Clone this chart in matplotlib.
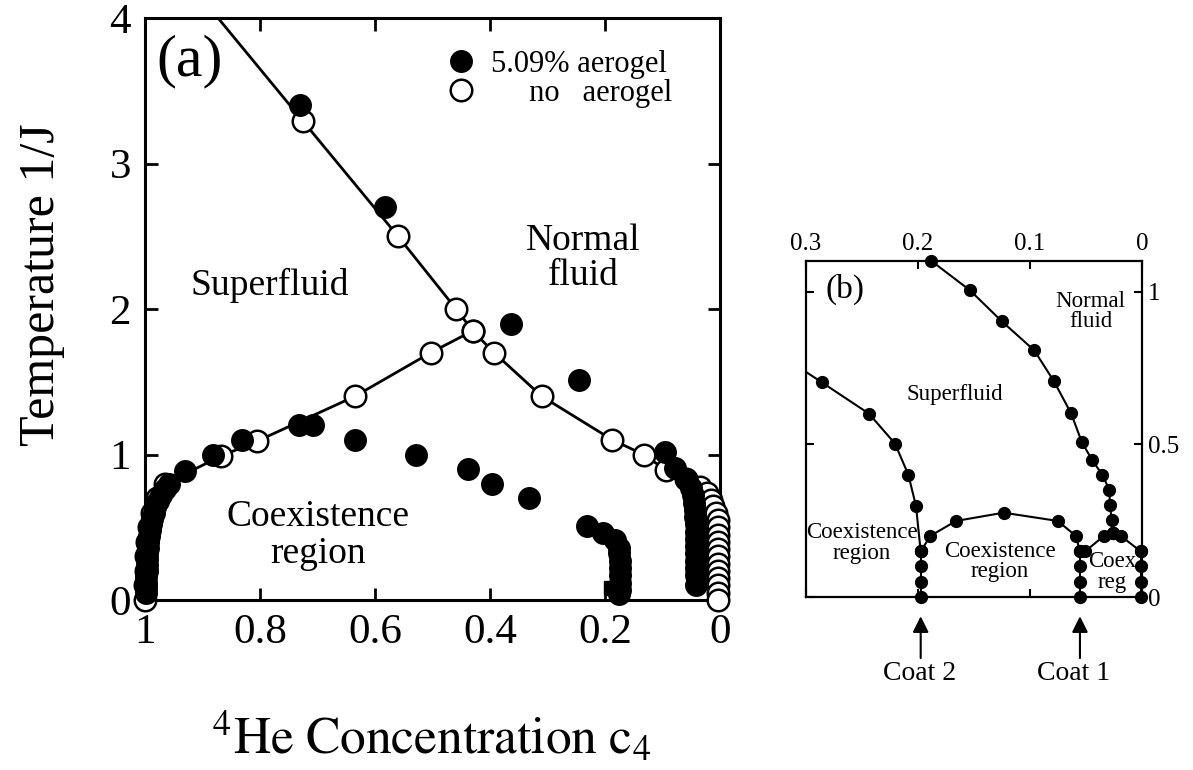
import matplotlib
matplotlib.use("Agg")
import matplotlib.pyplot as plt
from matplotlib.lines import Line2D

plt.rcParams['font.family'] = ['Liberation Serif', 'DejaVu Serif']
plt.rcParams['mathtext.fontset'] = 'stix'

# ---------------- Panel (a) data ----------------
# 5.09% aerogel (filled circles, no line)
aero_c = [0.730, 0.583, 0.364, 0.245,
          0.707, 0.733, 0.635, 0.832, 0.881, 0.930, 0.959,
          0.965, 0.972, 0.978, 0.982, 0.985, 0.988, 0.990, 0.992, 0.993, 0.994,
          0.995, 0.996, 0.996, 0.997, 0.997, 0.998, 0.998, 0.999, 0.999,
          0.529, 0.439, 0.397, 0.333,
          0.232, 0.204, 0.183, 0.176, 0.175, 0.174, 0.174, 0.174, 0.174, 0.174, 0.175,
          0.096, 0.078, 0.058, 0.051, 0.047, 0.045, 0.044, 0.043, 0.042, 0.042,
          0.042, 0.041, 0.041, 0.041, 0.041, 0.041, 0.041]
aero_T = [3.40, 2.70, 1.90, 1.51,
          1.20, 1.20, 1.10, 1.10, 1.00, 0.89, 0.80,
          0.76, 0.72, 0.68, 0.64, 0.60, 0.56, 0.52, 0.48, 0.44, 0.40,
          0.36, 0.32, 0.28, 0.24, 0.20, 0.16, 0.12, 0.08, 0.05,
          1.00, 0.90, 0.80, 0.70,
          0.51, 0.46, 0.41, 0.36, 0.32, 0.27, 0.22, 0.17, 0.12, 0.07, 0.04,
          1.02, 0.91, 0.825, 0.77, 0.72, 0.67, 0.62, 0.57, 0.52, 0.47,
          0.42, 0.37, 0.32, 0.27, 0.22, 0.17, 0.10]
# small filled square near c4 = 0.19
aero_sq_c = [0.189]
aero_sq_T = [0.08]

# no aerogel (open circles): lambda line + right branch
lam_top_c, lam_top_T = 0.873, 4.0          # where the guide line leaves the frame
noaero_A_c = [0.725, 0.560, 0.459, 0.430, 0.393, 0.310, 0.187, 0.133, 0.094,
              0.060, 0.035, 0.023, 0.016, 0.0116, 0.007, 0.004, 0.003, 0.003,
              0.003, 0.003, 0.003, 0.003, 0.003, 0.003, 0.003, 0.003, 0.003]
noaero_A_T = [3.29, 2.50, 2.00, 1.85, 1.70, 1.40, 1.10, 1.00, 0.893,
              0.83, 0.78, 0.733, 0.69, 0.645, 0.60, 0.55, 0.50, 0.45,
              0.40, 0.35, 0.30, 0.25, 0.20, 0.15, 0.10, 0.05, 0.0]
# no aerogel: left phase-separation branch
noaero_B_c = [1.0, 0.9995, 0.999, 0.998, 0.996, 0.993, 0.988, 0.980, 0.965,
              0.867, 0.806, 0.635, 0.503, 0.430]
noaero_B_T = [0.0, 0.1, 0.2, 0.3, 0.4, 0.5, 0.6, 0.7, 0.8,
              0.99, 1.09, 1.40, 1.70, 1.85]

xticks_a = [1.0, 0.8, 0.6, 0.4, 0.2, 0.0]
xticklabels_a = ["1", "0.8", "0.6", "0.4", "0.2", "0"]
yticks_a = [0, 1, 2, 3, 4]

# ---------------- Panel (b) data ----------------
b_left_c = [0.310, 0.286, 0.2437, 0.2205, 0.2086, 0.2018, 0.1976]
b_left_T = [0.761, 0.703, 0.600, 0.502, 0.400, 0.298, 0.149]
b_left_markers = [False, True, True, True, True, True, True]
coat2_c = 0.1976
coat1_c = 0.0554
coat0_c = 0.001
b_coat_T = [0.149, 0.100, 0.050, 0.0]
b_dome_c = [0.1976, 0.189, 0.166, 0.1235, 0.0753, 0.059, 0.0554]
b_dome_T = [0.149, 0.200, 0.249, 0.276, 0.249, 0.200, 0.149]
b_upper_c = [0.188, 0.1536, 0.1253, 0.0961, 0.0786, 0.0634, 0.0536, 0.0446,
             0.0354, 0.0292, 0.0286, 0.0271, 0.0262]
b_upper_T = [1.100, 1.004, 0.903, 0.807, 0.706, 0.602, 0.506, 0.449,
             0.400, 0.351, 0.302, 0.252, 0.211]
b_lbranch_c = [0.0262, 0.034, 0.0509]
b_lbranch_T = [0.211, 0.200, 0.149]
b_rbranch_c = [0.0262, 0.019, 0.001]
b_rbranch_T = [0.211, 0.200, 0.149]
xticks_b = [0.3, 0.2, 0.1, 0.0]
xticklabels_b = ["0.3", "0.2", "0.1", "0"]
yticks_b = [0, 0.5, 1]
yticklabels_b = ["0", "0.5", "1"]

W, H = 1193, 770
fig = plt.figure(figsize=(W / 100, H / 100), dpi=100)

# ================= Panel (a) =================
axA = fig.add_axes([145 / W, 1 - 600 / H, 575 / W, 582 / H])
axA.set_xlim(1.0, 0.0)
axA.set_ylim(0, 4)

lw_line = 2.0
ms_a = 15.5
axA.plot([lam_top_c] + noaero_A_c, [lam_top_T] + noaero_A_T, '-', color='k',
         lw=lw_line, zorder=2)
axA.plot(noaero_B_c, noaero_B_T, '-', color='k', lw=lw_line, zorder=2)
axA.plot(noaero_A_c, noaero_A_T, 'o', ms=ms_a, mfc='white', mec='k', mew=1.8,
         ls='none', zorder=3, clip_on=False)
axA.plot(noaero_B_c, noaero_B_T, 'o', ms=ms_a, mfc='white', mec='k', mew=1.8,
         ls='none', zorder=3, clip_on=False)
axA.plot(aero_c, aero_T, 'o', ms=ms_a, mfc='k', mec='k', ls='none', zorder=4,
         clip_on=False)
axA.plot(aero_sq_c, aero_sq_T, 's', ms=10, mfc='k', mec='k', ls='none', zorder=4)

axA.set_xticks(xticks_a)
axA.set_xticklabels(xticklabels_a)
axA.set_yticks(yticks_a)
axA.tick_params(direction='in', length=9, width=2, top=True, right=True,
                labelsize=31, pad=10)
for s in axA.spines.values():
    s.set_linewidth(2.2)

axA.text(0.922, 3.70, "(a)", fontsize=43, ha='center', va='center')
axA.text(0.238, 2.35, "Normal\nfluid", fontsize=27, ha='center', va='center',
         linespacing=1.0)
axA.text(0.783, 2.165, "Superfluid", fontsize=27, ha='center', va='center')
axA.text(0.699, 0.447, "Coexistence\nregion", fontsize=27, ha='center',
         va='center', linespacing=1.1)

h1 = Line2D([], [], marker='o', ms=ms_a, mfc='k', mec='k', ls='none')
h2 = Line2D([], [], marker='o', ms=ms_a, mfc='white', mec='k', mew=1.8, ls='none')
axA.legend([h1, h2], ["5.09% aerogel", "     no   aerogel"], loc='upper left',
           bbox_to_anchor=(0.528, 0.945), frameon=False, fontsize=22,
           handlelength=0.8, handletextpad=0.6, labelspacing=0.0,
           borderpad=0, borderaxespad=0)

fig.text(42 / W, 1 - 285 / H, "Temperature 1/J", rotation=90, fontsize=36,
         ha='center', va='center')
fig.text(432 / W, 1 - 738 / H, r"$^{4}\mathrm{He\ Concentration\ c}_{4}$",
         fontsize=37, ha='center', va='center')

# ================= Panel (b) =================
axB = fig.add_axes([806 / W, 1 - 597 / H, 336 / W, 336 / H])
axB.set_xlim(0.3, 0.0)
axB.set_ylim(0, 1.1)
ms_b = 8.5
lw_b = 1.5
kw = dict(color='k', lw=lw_b, marker='o', ms=ms_b, mfc='k', mec='k', clip_on=False)
# left curve: line clipped, markers not
axB.plot(b_left_c, b_left_T, '-', color='k', lw=lw_b)
axB.plot([c for c, m in zip(b_left_c, b_left_markers) if m],
         [t for t, m in zip(b_left_T, b_left_markers) if m], 'o', ms=ms_b,
         color='k', clip_on=False)
axB.plot([coat2_c] * len(b_coat_T), b_coat_T, **kw)
axB.plot([coat1_c] * len(b_coat_T), b_coat_T, **kw)
axB.plot([coat0_c] * len(b_coat_T), b_coat_T, **kw)
axB.plot(b_dome_c, b_dome_T, **kw)
axB.plot(b_upper_c, b_upper_T, **kw)
axB.plot(b_lbranch_c, b_lbranch_T, **kw)
axB.plot(b_rbranch_c, b_rbranch_T, **kw)

axB.set_xticks(xticks_b)
axB.set_xticklabels(xticklabels_b)
axB.set_yticks(yticks_b)
axB.set_yticklabels(yticklabels_b)
axB.tick_params(direction='in', length=6, width=1.5, top=True, right=True,
                bottom=True, left=True, labeltop=True, labelbottom=False,
                labelright=True, labelleft=False, labelsize=18, pad=4)
for s in axB.spines.values():
    s.set_linewidth(1.6)

axB.text(0.265, 1.007, "(b)", fontsize=24, ha='center', va='center')
axB.text(0.046, 0.934, "Normal\nfluid", fontsize=16.5, ha='center', va='center',
         linespacing=0.95)
axB.text(0.167, 0.662, "Superfluid", fontsize=16.5, ha='center', va='center')
axB.text(0.250, 0.177, "Coexistence\nregion", fontsize=16.5, ha='center',
         va='center', linespacing=0.95)
axB.text(0.127, 0.115, "Coexistence\nregion", fontsize=16.5, ha='center',
         va='center', linespacing=0.95)
axB.text(0.027, 0.082, "Coex\nreg", fontsize=16.5, ha='center', va='center',
         linespacing=0.95)

for cc, lab, tx in [(coat2_c, "Coat 2", coat2_c + 0.001), (coat1_c, "Coat 1", coat1_c + 0.006)]:
    axB.annotate("", xy=(cc, -0.063), xytext=(cc, -0.200),
                 arrowprops=dict(arrowstyle='-|>', color='k', lw=1.5,
                                 mutation_scale=24, shrinkA=0, shrinkB=0),
                 annotation_clip=False)
    axB.text(tx, -0.252, lab, fontsize=20, ha='center', va='center')

fig.savefig("out.png", dpi=100)
